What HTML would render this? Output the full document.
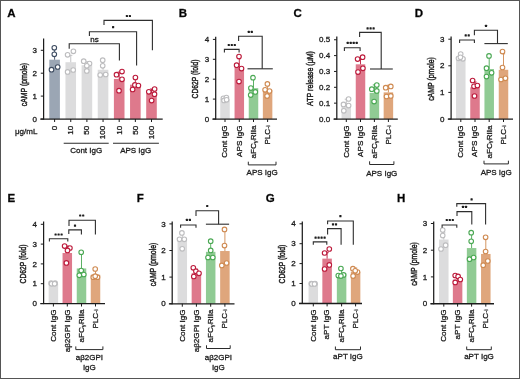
<!DOCTYPE html>
<html><head><meta charset="utf-8"><title>Figure</title>
<style>
html,body{margin:0;padding:0;background:#fff;}
body{width:520px;height:379px;overflow:hidden;}
svg{display:block;font-family:"Liberation Sans", sans-serif;will-change:transform;}
text{stroke:#1c1c1c;stroke-width:0.3px;}
.yt{stroke-width:0.45px;}
</style></head>
<body>
<svg width="520" height="379" viewBox="0 0 520 379">
<rect x="0" y="0" width="520" height="379" fill="#ffffff"/>
<rect x="49.3" y="59.69" width="10.6" height="59.31" fill="#9ba6b4"/>
<line x1="54.6" y1="59.69" x2="54.6" y2="49.38" stroke="#3f4d62" stroke-width="0.9"/>
<line x1="53" y1="49.38" x2="56.2" y2="49.38" stroke="#3f4d62" stroke-width="0.9"/>
<circle cx="54.3" cy="47.8" r="2.3" fill="#ffffff" stroke="#3f4d62" stroke-width="1.1"/>
<circle cx="54.3" cy="54.3" r="2.3" fill="#ffffff" stroke="#3f4d62" stroke-width="1.1"/>
<circle cx="51.5" cy="69.7" r="2.3" fill="#ffffff" stroke="#3f4d62" stroke-width="1.1"/>
<circle cx="57.7" cy="67" r="2.3" fill="#ffffff" stroke="#3f4d62" stroke-width="1.1"/>
<rect x="65.45" y="62.21" width="10.6" height="56.79" fill="#dcdcdd"/>
<line x1="70.75" y1="62.21" x2="70.75" y2="55.34" stroke="#bdbdbf" stroke-width="0.9"/>
<line x1="69.15" y1="55.34" x2="72.35" y2="55.34" stroke="#bdbdbf" stroke-width="0.9"/>
<circle cx="67.6" cy="54.8" r="2.3" fill="#ffffff" stroke="#bdbdbf" stroke-width="1.1"/>
<circle cx="73.4" cy="51.3" r="2.3" fill="#ffffff" stroke="#bdbdbf" stroke-width="1.1"/>
<circle cx="67.6" cy="71.9" r="2.3" fill="#ffffff" stroke="#bdbdbf" stroke-width="1.1"/>
<circle cx="73.2" cy="70" r="2.3" fill="#ffffff" stroke="#bdbdbf" stroke-width="1.1"/>
<rect x="81.6" y="65.19" width="10.6" height="53.81" fill="#dcdcdd"/>
<line x1="86.9" y1="65.19" x2="86.9" y2="61.75" stroke="#bdbdbf" stroke-width="0.9"/>
<line x1="85.3" y1="61.75" x2="88.5" y2="61.75" stroke="#bdbdbf" stroke-width="0.9"/>
<circle cx="83.7" cy="61.2" r="2.3" fill="#ffffff" stroke="#bdbdbf" stroke-width="1.1"/>
<circle cx="89.5" cy="63.5" r="2.3" fill="#ffffff" stroke="#bdbdbf" stroke-width="1.1"/>
<circle cx="86.8" cy="65.8" r="2.3" fill="#ffffff" stroke="#bdbdbf" stroke-width="1.1"/>
<circle cx="86.8" cy="70.9" r="2.3" fill="#ffffff" stroke="#bdbdbf" stroke-width="1.1"/>
<rect x="97.75" y="69.77" width="10.6" height="49.23" fill="#dcdcdd"/>
<line x1="103.05" y1="69.77" x2="103.05" y2="60.61" stroke="#bdbdbf" stroke-width="0.9"/>
<line x1="101.45" y1="60.61" x2="104.65" y2="60.61" stroke="#bdbdbf" stroke-width="0.9"/>
<circle cx="102.7" cy="60.2" r="2.3" fill="#ffffff" stroke="#bdbdbf" stroke-width="1.1"/>
<circle cx="102.7" cy="65.8" r="2.3" fill="#ffffff" stroke="#bdbdbf" stroke-width="1.1"/>
<circle cx="100.2" cy="75" r="2.3" fill="#ffffff" stroke="#bdbdbf" stroke-width="1.1"/>
<circle cx="105.7" cy="74.5" r="2.3" fill="#ffffff" stroke="#bdbdbf" stroke-width="1.1"/>
<rect x="113.9" y="78.93" width="10.6" height="40.07" fill="#de798c"/>
<line x1="119.2" y1="78.93" x2="119.2" y2="72.06" stroke="#bc1a3b" stroke-width="0.9"/>
<line x1="117.6" y1="72.06" x2="120.8" y2="72.06" stroke="#bc1a3b" stroke-width="0.9"/>
<circle cx="116.5" cy="74.7" r="2.3" fill="#ffffff" stroke="#bc1a3b" stroke-width="1.1"/>
<circle cx="122" cy="71.6" r="2.3" fill="#ffffff" stroke="#bc1a3b" stroke-width="1.1"/>
<circle cx="122" cy="79.3" r="2.3" fill="#ffffff" stroke="#bc1a3b" stroke-width="1.1"/>
<circle cx="119" cy="90.7" r="2.3" fill="#ffffff" stroke="#bc1a3b" stroke-width="1.1"/>
<rect x="130.05" y="84.65" width="10.6" height="34.35" fill="#de798c"/>
<line x1="135.35" y1="84.65" x2="135.35" y2="77.78" stroke="#bc1a3b" stroke-width="0.9"/>
<line x1="133.75" y1="77.78" x2="136.95" y2="77.78" stroke="#bc1a3b" stroke-width="0.9"/>
<circle cx="135.4" cy="77.5" r="2.3" fill="#ffffff" stroke="#bc1a3b" stroke-width="1.1"/>
<circle cx="134.9" cy="84.9" r="2.3" fill="#ffffff" stroke="#bc1a3b" stroke-width="1.1"/>
<circle cx="138.4" cy="85.5" r="2.3" fill="#ffffff" stroke="#bc1a3b" stroke-width="1.1"/>
<circle cx="132.6" cy="89.5" r="2.3" fill="#ffffff" stroke="#bc1a3b" stroke-width="1.1"/>
<rect x="146.2" y="93.58" width="10.6" height="25.42" fill="#de798c"/>
<line x1="151.5" y1="93.58" x2="151.5" y2="89" stroke="#bc1a3b" stroke-width="0.9"/>
<line x1="149.9" y1="89" x2="153.1" y2="89" stroke="#bc1a3b" stroke-width="0.9"/>
<circle cx="148.8" cy="91.8" r="2.3" fill="#ffffff" stroke="#bc1a3b" stroke-width="1.1"/>
<circle cx="154.6" cy="89" r="2.3" fill="#ffffff" stroke="#bc1a3b" stroke-width="1.1"/>
<circle cx="154.5" cy="94.2" r="2.3" fill="#ffffff" stroke="#bc1a3b" stroke-width="1.1"/>
<circle cx="151.6" cy="100.6" r="2.3" fill="#ffffff" stroke="#bc1a3b" stroke-width="1.1"/>
<line x1="43.6" y1="38.5" x2="43.6" y2="119.6" stroke="#1c1c1c" stroke-width="1.25"/>
<line x1="40.3" y1="119.15" x2="162.7" y2="119.15" stroke="#1c1c1c" stroke-width="1.4"/>
<line x1="40.8" y1="119" x2="43.6" y2="119" stroke="#1c1c1c" stroke-width="1.0"/>
<text x="37" y="121.6" font-size="8" text-anchor="end" font-weight="normal" fill="#1c1c1c" >0</text>
<line x1="40.8" y1="96.1" x2="43.6" y2="96.1" stroke="#1c1c1c" stroke-width="1.0"/>
<text x="37" y="98.7" font-size="8" text-anchor="end" font-weight="normal" fill="#1c1c1c" >1</text>
<line x1="40.8" y1="73.2" x2="43.6" y2="73.2" stroke="#1c1c1c" stroke-width="1.0"/>
<text x="37" y="75.8" font-size="8" text-anchor="end" font-weight="normal" fill="#1c1c1c" >2</text>
<line x1="40.8" y1="50.3" x2="43.6" y2="50.3" stroke="#1c1c1c" stroke-width="1.0"/>
<text x="37" y="52.9" font-size="8" text-anchor="end" font-weight="normal" fill="#1c1c1c" >3</text>
<line x1="54.6" y1="119" x2="54.6" y2="122" stroke="#1c1c1c" stroke-width="1.0"/>
<line x1="70.75" y1="119" x2="70.75" y2="122" stroke="#1c1c1c" stroke-width="1.0"/>
<line x1="86.9" y1="119" x2="86.9" y2="122" stroke="#1c1c1c" stroke-width="1.0"/>
<line x1="103.05" y1="119" x2="103.05" y2="122" stroke="#1c1c1c" stroke-width="1.0"/>
<line x1="119.2" y1="119" x2="119.2" y2="122" stroke="#1c1c1c" stroke-width="1.0"/>
<line x1="135.35" y1="119" x2="135.35" y2="122" stroke="#1c1c1c" stroke-width="1.0"/>
<line x1="151.5" y1="119" x2="151.5" y2="122" stroke="#1c1c1c" stroke-width="1.0"/>
<text transform="translate(26.5,84.5) rotate(-90)" font-size="9.2" text-anchor="middle" font-weight="normal" fill="#1c1c1c" textLength="43.3" lengthAdjust="spacingAndGlyphs" class="yt">cAMP (pmole)</text>
<text transform="translate(56.95,125.8) rotate(-90)" font-size="8.1" text-anchor="end" font-weight="normal" fill="#1c1c1c">0</text>
<text transform="translate(73.1,125.8) rotate(-90)" font-size="8.1" text-anchor="end" font-weight="normal" fill="#1c1c1c">10</text>
<text transform="translate(89.25,125.8) rotate(-90)" font-size="8.1" text-anchor="end" font-weight="normal" fill="#1c1c1c">50</text>
<text transform="translate(105.4,125.8) rotate(-90)" font-size="8.1" text-anchor="end" font-weight="normal" fill="#1c1c1c">100</text>
<text transform="translate(121.55,125.8) rotate(-90)" font-size="8.1" text-anchor="end" font-weight="normal" fill="#1c1c1c">10</text>
<text transform="translate(137.7,125.8) rotate(-90)" font-size="8.1" text-anchor="end" font-weight="normal" fill="#1c1c1c">50</text>
<text transform="translate(153.85,125.8) rotate(-90)" font-size="8.1" text-anchor="end" font-weight="normal" fill="#1c1c1c">100</text>
<text x="7.3" y="16.7" font-size="11.5" text-anchor="start" font-weight="bold" fill="#000" >A</text>
<rect x="220.25" y="99.1" width="9.5" height="19.9" fill="#dcdcdd"/>
<line x1="225" y1="99.1" x2="225" y2="98.1" stroke="#bdbdbf" stroke-width="0.9"/>
<line x1="223.4" y1="98.1" x2="226.6" y2="98.1" stroke="#bdbdbf" stroke-width="0.9"/>
<circle cx="223.4" cy="98.3" r="2.3" fill="#ffffff" stroke="#bdbdbf" stroke-width="1.1"/>
<circle cx="226.4" cy="97.6" r="2.3" fill="#ffffff" stroke="#bdbdbf" stroke-width="1.1"/>
<circle cx="224" cy="100.4" r="2.3" fill="#ffffff" stroke="#bdbdbf" stroke-width="1.1"/>
<circle cx="226.6" cy="99.8" r="2.3" fill="#ffffff" stroke="#bdbdbf" stroke-width="1.1"/>
<rect x="234.55" y="67.66" width="9.5" height="51.34" fill="#de798c"/>
<line x1="239.3" y1="67.66" x2="239.3" y2="58.7" stroke="#bc1a3b" stroke-width="0.9"/>
<line x1="237.7" y1="58.7" x2="240.9" y2="58.7" stroke="#bc1a3b" stroke-width="0.9"/>
<circle cx="239" cy="56.5" r="2.3" fill="#ffffff" stroke="#bc1a3b" stroke-width="1.1"/>
<circle cx="236.6" cy="65.2" r="2.3" fill="#ffffff" stroke="#bc1a3b" stroke-width="1.1"/>
<circle cx="241.5" cy="68.6" r="2.3" fill="#ffffff" stroke="#bc1a3b" stroke-width="1.1"/>
<circle cx="239" cy="81.6" r="2.3" fill="#ffffff" stroke="#bc1a3b" stroke-width="1.1"/>
<rect x="248.75" y="88.16" width="9.5" height="30.84" fill="#90cb94"/>
<line x1="253.5" y1="88.16" x2="253.5" y2="79.2" stroke="#4aa853" stroke-width="0.9"/>
<line x1="251.9" y1="79.2" x2="255.1" y2="79.2" stroke="#4aa853" stroke-width="0.9"/>
<circle cx="253" cy="77.7" r="2.3" fill="#ffffff" stroke="#4aa853" stroke-width="1.1"/>
<circle cx="250.9" cy="88.1" r="2.3" fill="#ffffff" stroke="#4aa853" stroke-width="1.1"/>
<circle cx="255.3" cy="91.9" r="2.3" fill="#ffffff" stroke="#4aa853" stroke-width="1.1"/>
<circle cx="250.7" cy="95.1" r="2.3" fill="#ffffff" stroke="#4aa853" stroke-width="1.1"/>
<rect x="262.85" y="90.15" width="9.5" height="28.85" fill="#dfa67c"/>
<line x1="267.6" y1="90.15" x2="267.6" y2="84.18" stroke="#cf8a51" stroke-width="0.9"/>
<line x1="266" y1="84.18" x2="269.2" y2="84.18" stroke="#cf8a51" stroke-width="0.9"/>
<circle cx="267.4" cy="83.9" r="2.3" fill="#ffffff" stroke="#cf8a51" stroke-width="1.1"/>
<circle cx="265.1" cy="89.8" r="2.3" fill="#ffffff" stroke="#cf8a51" stroke-width="1.1"/>
<circle cx="269.5" cy="91" r="2.3" fill="#ffffff" stroke="#cf8a51" stroke-width="1.1"/>
<circle cx="267.1" cy="96.1" r="2.3" fill="#ffffff" stroke="#cf8a51" stroke-width="1.1"/>
<line x1="215.7" y1="36.7" x2="215.7" y2="119.6" stroke="#1c1c1c" stroke-width="1.25"/>
<line x1="212.4" y1="119.15" x2="277" y2="119.15" stroke="#1c1c1c" stroke-width="1.4"/>
<line x1="212.9" y1="119" x2="215.7" y2="119" stroke="#1c1c1c" stroke-width="1.0"/>
<text x="209.1" y="121.6" font-size="8" text-anchor="end" font-weight="normal" fill="#1c1c1c" >0</text>
<line x1="212.9" y1="99.1" x2="215.7" y2="99.1" stroke="#1c1c1c" stroke-width="1.0"/>
<text x="209.1" y="101.7" font-size="8" text-anchor="end" font-weight="normal" fill="#1c1c1c" >1</text>
<line x1="212.9" y1="79.2" x2="215.7" y2="79.2" stroke="#1c1c1c" stroke-width="1.0"/>
<text x="209.1" y="81.8" font-size="8" text-anchor="end" font-weight="normal" fill="#1c1c1c" >2</text>
<line x1="212.9" y1="59.3" x2="215.7" y2="59.3" stroke="#1c1c1c" stroke-width="1.0"/>
<text x="209.1" y="61.9" font-size="8" text-anchor="end" font-weight="normal" fill="#1c1c1c" >3</text>
<line x1="212.9" y1="39.4" x2="215.7" y2="39.4" stroke="#1c1c1c" stroke-width="1.0"/>
<text x="209.1" y="42" font-size="8" text-anchor="end" font-weight="normal" fill="#1c1c1c" >4</text>
<line x1="225" y1="119" x2="225" y2="122" stroke="#1c1c1c" stroke-width="1.0"/>
<line x1="239.3" y1="119" x2="239.3" y2="122" stroke="#1c1c1c" stroke-width="1.0"/>
<line x1="253.5" y1="119" x2="253.5" y2="122" stroke="#1c1c1c" stroke-width="1.0"/>
<line x1="267.6" y1="119" x2="267.6" y2="122" stroke="#1c1c1c" stroke-width="1.0"/>
<text transform="translate(197.7,79) rotate(-90)" font-size="9.2" text-anchor="middle" font-weight="normal" fill="#1c1c1c" textLength="38.9" lengthAdjust="spacingAndGlyphs" class="yt">CD62P (fold)</text>
<text transform="translate(227.35,125.4) rotate(-90)" font-size="8.1" text-anchor="end" font-weight="normal" fill="#1c1c1c">Cont IgG</text>
<text transform="translate(241.65,125.4) rotate(-90)" font-size="8.1" text-anchor="end" font-weight="normal" fill="#1c1c1c">APS IgG</text>
<text transform="translate(255.85,125.4) rotate(-90)" font-size="8.1" text-anchor="end" font-weight="normal" fill="#1c1c1c">aFC<tspan font-size="5.8" dy="0.9">&#947;</tspan><tspan dy="-0.9">RIIa</tspan></text>
<text transform="translate(269.95,125.4) rotate(-90)" font-size="8.1" text-anchor="end" font-weight="normal" fill="#1c1c1c">PLC<tspan font-size="6.2">-i</tspan></text>
<text x="178.7" y="16.7" font-size="11.5" text-anchor="start" font-weight="bold" fill="#000" >B</text>
<rect x="341.55" y="105.53" width="9.5" height="13.47" fill="#dcdcdd"/>
<line x1="346.3" y1="105.53" x2="346.3" y2="99.19" stroke="#bdbdbf" stroke-width="0.9"/>
<line x1="344.7" y1="99.19" x2="347.9" y2="99.19" stroke="#bdbdbf" stroke-width="0.9"/>
<circle cx="348.6" cy="99" r="2.3" fill="#ffffff" stroke="#bdbdbf" stroke-width="1.1"/>
<circle cx="343.5" cy="104.4" r="2.3" fill="#ffffff" stroke="#bdbdbf" stroke-width="1.1"/>
<circle cx="348.6" cy="105.6" r="2.3" fill="#ffffff" stroke="#bdbdbf" stroke-width="1.1"/>
<circle cx="343.8" cy="110.8" r="2.3" fill="#ffffff" stroke="#bdbdbf" stroke-width="1.1"/>
<rect x="355.75" y="64.32" width="9.5" height="54.68" fill="#de798c"/>
<line x1="360.5" y1="64.32" x2="360.5" y2="57.98" stroke="#bc1a3b" stroke-width="0.9"/>
<line x1="358.9" y1="57.98" x2="362.1" y2="57.98" stroke="#bc1a3b" stroke-width="0.9"/>
<circle cx="357.6" cy="59.1" r="2.3" fill="#ffffff" stroke="#bc1a3b" stroke-width="1.1"/>
<circle cx="362.6" cy="57.2" r="2.3" fill="#ffffff" stroke="#bc1a3b" stroke-width="1.1"/>
<circle cx="362.9" cy="68.3" r="2.3" fill="#ffffff" stroke="#bc1a3b" stroke-width="1.1"/>
<circle cx="358" cy="72.1" r="2.3" fill="#ffffff" stroke="#bc1a3b" stroke-width="1.1"/>
<rect x="369.65" y="92.85" width="9.5" height="26.15" fill="#90cb94"/>
<line x1="374.4" y1="92.85" x2="374.4" y2="84.92" stroke="#4aa853" stroke-width="0.9"/>
<line x1="372.8" y1="84.92" x2="376" y2="84.92" stroke="#4aa853" stroke-width="0.9"/>
<circle cx="376.8" cy="85.1" r="2.3" fill="#ffffff" stroke="#4aa853" stroke-width="1.1"/>
<circle cx="371.8" cy="89.2" r="2.3" fill="#ffffff" stroke="#4aa853" stroke-width="1.1"/>
<circle cx="376.8" cy="90.9" r="2.3" fill="#ffffff" stroke="#4aa853" stroke-width="1.1"/>
<circle cx="374.1" cy="101.6" r="2.3" fill="#ffffff" stroke="#4aa853" stroke-width="1.1"/>
<rect x="383.65" y="92.37" width="9.5" height="26.63" fill="#dfa67c"/>
<line x1="388.4" y1="92.37" x2="388.4" y2="85.24" stroke="#cf8a51" stroke-width="0.9"/>
<line x1="386.8" y1="85.24" x2="390" y2="85.24" stroke="#cf8a51" stroke-width="0.9"/>
<circle cx="385.7" cy="87.7" r="2.3" fill="#ffffff" stroke="#cf8a51" stroke-width="1.1"/>
<circle cx="390.8" cy="86.4" r="2.3" fill="#ffffff" stroke="#cf8a51" stroke-width="1.1"/>
<circle cx="386.5" cy="96.5" r="2.3" fill="#ffffff" stroke="#cf8a51" stroke-width="1.1"/>
<circle cx="390.8" cy="95.9" r="2.3" fill="#ffffff" stroke="#cf8a51" stroke-width="1.1"/>
<line x1="336.8" y1="36.5" x2="336.8" y2="119.6" stroke="#1c1c1c" stroke-width="1.25"/>
<line x1="333.5" y1="119.15" x2="397.8" y2="119.15" stroke="#1c1c1c" stroke-width="1.4"/>
<line x1="334" y1="119" x2="336.8" y2="119" stroke="#1c1c1c" stroke-width="1.0"/>
<text x="330.2" y="121.6" font-size="8" text-anchor="end" font-weight="normal" fill="#1c1c1c" >0.0</text>
<line x1="334" y1="103.15" x2="336.8" y2="103.15" stroke="#1c1c1c" stroke-width="1.0"/>
<text x="330.2" y="105.75" font-size="8" text-anchor="end" font-weight="normal" fill="#1c1c1c" >0.1</text>
<line x1="334" y1="87.3" x2="336.8" y2="87.3" stroke="#1c1c1c" stroke-width="1.0"/>
<text x="330.2" y="89.9" font-size="8" text-anchor="end" font-weight="normal" fill="#1c1c1c" >0.2</text>
<line x1="334" y1="71.45" x2="336.8" y2="71.45" stroke="#1c1c1c" stroke-width="1.0"/>
<text x="330.2" y="74.05" font-size="8" text-anchor="end" font-weight="normal" fill="#1c1c1c" >0.3</text>
<line x1="334" y1="55.6" x2="336.8" y2="55.6" stroke="#1c1c1c" stroke-width="1.0"/>
<text x="330.2" y="58.2" font-size="8" text-anchor="end" font-weight="normal" fill="#1c1c1c" >0.4</text>
<line x1="334" y1="39.75" x2="336.8" y2="39.75" stroke="#1c1c1c" stroke-width="1.0"/>
<text x="330.2" y="42.35" font-size="8" text-anchor="end" font-weight="normal" fill="#1c1c1c" >0.5</text>
<line x1="346.3" y1="119" x2="346.3" y2="122" stroke="#1c1c1c" stroke-width="1.0"/>
<line x1="360.5" y1="119" x2="360.5" y2="122" stroke="#1c1c1c" stroke-width="1.0"/>
<line x1="374.4" y1="119" x2="374.4" y2="122" stroke="#1c1c1c" stroke-width="1.0"/>
<line x1="388.4" y1="119" x2="388.4" y2="122" stroke="#1c1c1c" stroke-width="1.0"/>
<text transform="translate(312.6,78.5) rotate(-90)" font-size="9.2" text-anchor="middle" font-weight="normal" fill="#1c1c1c" textLength="54.9" lengthAdjust="spacingAndGlyphs" class="yt">ATP release (&#956;M)</text>
<text transform="translate(348.65,125.4) rotate(-90)" font-size="8.1" text-anchor="end" font-weight="normal" fill="#1c1c1c">Cont IgG</text>
<text transform="translate(362.85,125.4) rotate(-90)" font-size="8.1" text-anchor="end" font-weight="normal" fill="#1c1c1c">APS IgG</text>
<text transform="translate(376.75,125.4) rotate(-90)" font-size="8.1" text-anchor="end" font-weight="normal" fill="#1c1c1c">aFC<tspan font-size="5.8" dy="0.9">&#947;</tspan><tspan dy="-0.9">RIIa</tspan></text>
<text transform="translate(390.75,125.4) rotate(-90)" font-size="8.1" text-anchor="end" font-weight="normal" fill="#1c1c1c">PLC<tspan font-size="6.2">-i</tspan></text>
<text x="293.6" y="16.7" font-size="11.5" text-anchor="start" font-weight="bold" fill="#000" >C</text>
<rect x="456.05" y="57.82" width="9.5" height="61.18" fill="#dcdcdd"/>
<line x1="460.8" y1="57.82" x2="460.8" y2="55.16" stroke="#bdbdbf" stroke-width="0.9"/>
<line x1="459.2" y1="55.16" x2="462.4" y2="55.16" stroke="#bdbdbf" stroke-width="0.9"/>
<circle cx="460.7" cy="54" r="2.3" fill="#ffffff" stroke="#bdbdbf" stroke-width="1.1"/>
<circle cx="458.5" cy="58.3" r="2.3" fill="#ffffff" stroke="#bdbdbf" stroke-width="1.1"/>
<circle cx="462.9" cy="58.8" r="2.3" fill="#ffffff" stroke="#bdbdbf" stroke-width="1.1"/>
<circle cx="460.4" cy="57.3" r="2.3" fill="#ffffff" stroke="#bdbdbf" stroke-width="1.1"/>
<rect x="470.25" y="87.35" width="9.5" height="31.65" fill="#de798c"/>
<line x1="475" y1="87.35" x2="475" y2="82.03" stroke="#bc1a3b" stroke-width="0.9"/>
<line x1="473.4" y1="82.03" x2="476.6" y2="82.03" stroke="#bc1a3b" stroke-width="0.9"/>
<circle cx="472.6" cy="80.5" r="2.3" fill="#ffffff" stroke="#bc1a3b" stroke-width="1.1"/>
<circle cx="474" cy="86.3" r="2.3" fill="#ffffff" stroke="#bc1a3b" stroke-width="1.1"/>
<circle cx="477.4" cy="85.6" r="2.3" fill="#ffffff" stroke="#bc1a3b" stroke-width="1.1"/>
<circle cx="474.5" cy="96" r="2.3" fill="#ffffff" stroke="#bc1a3b" stroke-width="1.1"/>
<rect x="484.45" y="68.99" width="9.5" height="50.01" fill="#90cb94"/>
<line x1="489.2" y1="68.99" x2="489.2" y2="57.02" stroke="#4aa853" stroke-width="0.9"/>
<line x1="487.6" y1="57.02" x2="490.8" y2="57.02" stroke="#4aa853" stroke-width="0.9"/>
<circle cx="489" cy="55.9" r="2.3" fill="#ffffff" stroke="#4aa853" stroke-width="1.1"/>
<circle cx="486.5" cy="68.2" r="2.3" fill="#ffffff" stroke="#4aa853" stroke-width="1.1"/>
<circle cx="491.6" cy="72.8" r="2.3" fill="#ffffff" stroke="#4aa853" stroke-width="1.1"/>
<circle cx="486.5" cy="76.6" r="2.3" fill="#ffffff" stroke="#4aa853" stroke-width="1.1"/>
<rect x="498.75" y="69.79" width="9.5" height="49.21" fill="#dfa67c"/>
<line x1="503.5" y1="69.79" x2="503.5" y2="53.83" stroke="#cf8a51" stroke-width="0.9"/>
<line x1="501.9" y1="53.83" x2="505.1" y2="53.83" stroke="#cf8a51" stroke-width="0.9"/>
<circle cx="502.5" cy="51.5" r="2.3" fill="#ffffff" stroke="#cf8a51" stroke-width="1.1"/>
<circle cx="502.5" cy="67.5" r="2.3" fill="#ffffff" stroke="#cf8a51" stroke-width="1.1"/>
<circle cx="501" cy="79.5" r="2.3" fill="#ffffff" stroke="#cf8a51" stroke-width="1.1"/>
<circle cx="505.4" cy="78.3" r="2.3" fill="#ffffff" stroke="#cf8a51" stroke-width="1.1"/>
<line x1="451.1" y1="36.5" x2="451.1" y2="119.6" stroke="#1c1c1c" stroke-width="1.25"/>
<line x1="447.8" y1="119.15" x2="513" y2="119.15" stroke="#1c1c1c" stroke-width="1.4"/>
<line x1="448.3" y1="119" x2="451.1" y2="119" stroke="#1c1c1c" stroke-width="1.0"/>
<text x="444.5" y="121.6" font-size="8" text-anchor="end" font-weight="normal" fill="#1c1c1c" >0</text>
<line x1="448.3" y1="92.4" x2="451.1" y2="92.4" stroke="#1c1c1c" stroke-width="1.0"/>
<text x="444.5" y="95" font-size="8" text-anchor="end" font-weight="normal" fill="#1c1c1c" >1</text>
<line x1="448.3" y1="65.8" x2="451.1" y2="65.8" stroke="#1c1c1c" stroke-width="1.0"/>
<text x="444.5" y="68.4" font-size="8" text-anchor="end" font-weight="normal" fill="#1c1c1c" >2</text>
<line x1="448.3" y1="39.2" x2="451.1" y2="39.2" stroke="#1c1c1c" stroke-width="1.0"/>
<text x="444.5" y="41.8" font-size="8" text-anchor="end" font-weight="normal" fill="#1c1c1c" >3</text>
<line x1="460.8" y1="119" x2="460.8" y2="122" stroke="#1c1c1c" stroke-width="1.0"/>
<line x1="475" y1="119" x2="475" y2="122" stroke="#1c1c1c" stroke-width="1.0"/>
<line x1="489.2" y1="119" x2="489.2" y2="122" stroke="#1c1c1c" stroke-width="1.0"/>
<line x1="503.5" y1="119" x2="503.5" y2="122" stroke="#1c1c1c" stroke-width="1.0"/>
<text transform="translate(434.4,79) rotate(-90)" font-size="9.2" text-anchor="middle" font-weight="normal" fill="#1c1c1c" textLength="43.7" lengthAdjust="spacingAndGlyphs" class="yt">cAMP (pmole)</text>
<text transform="translate(463.15,125.4) rotate(-90)" font-size="8.1" text-anchor="end" font-weight="normal" fill="#1c1c1c">Cont IgG</text>
<text transform="translate(477.35,125.4) rotate(-90)" font-size="8.1" text-anchor="end" font-weight="normal" fill="#1c1c1c">APS IgG</text>
<text transform="translate(491.55,125.4) rotate(-90)" font-size="8.1" text-anchor="end" font-weight="normal" fill="#1c1c1c">aFC<tspan font-size="5.8" dy="0.9">&#947;</tspan><tspan dy="-0.9">RIIa</tspan></text>
<text transform="translate(505.85,125.4) rotate(-90)" font-size="8.1" text-anchor="end" font-weight="normal" fill="#1c1c1c">PLC<tspan font-size="6.2">-i</tspan></text>
<text x="414.7" y="16.7" font-size="11.5" text-anchor="start" font-weight="bold" fill="#000" >D</text>
<rect x="48.65" y="283.7" width="9.5" height="19.8" fill="#dcdcdd"/>
<line x1="53.4" y1="283.7" x2="53.4" y2="283.11" stroke="#bdbdbf" stroke-width="0.9"/>
<line x1="51.8" y1="283.11" x2="55" y2="283.11" stroke="#bdbdbf" stroke-width="0.9"/>
<circle cx="51.1" cy="283.2" r="2.3" fill="#ffffff" stroke="#bdbdbf" stroke-width="1.1"/>
<circle cx="55.1" cy="283.2" r="2.3" fill="#ffffff" stroke="#bdbdbf" stroke-width="1.1"/>
<circle cx="51.6" cy="283.8" r="2.3" fill="#ffffff" stroke="#bdbdbf" stroke-width="1.1"/>
<circle cx="54.6" cy="283.8" r="2.3" fill="#ffffff" stroke="#bdbdbf" stroke-width="1.1"/>
<rect x="62.55" y="253.01" width="9.5" height="50.49" fill="#de798c"/>
<line x1="67.3" y1="253.01" x2="67.3" y2="246.08" stroke="#bc1a3b" stroke-width="0.9"/>
<line x1="65.7" y1="246.08" x2="68.9" y2="246.08" stroke="#bc1a3b" stroke-width="0.9"/>
<circle cx="64.6" cy="246.1" r="2.3" fill="#ffffff" stroke="#bc1a3b" stroke-width="1.1"/>
<circle cx="69.9" cy="248" r="2.3" fill="#ffffff" stroke="#bc1a3b" stroke-width="1.1"/>
<circle cx="67.5" cy="250.4" r="2.3" fill="#ffffff" stroke="#bc1a3b" stroke-width="1.1"/>
<circle cx="66.4" cy="262.9" r="2.3" fill="#ffffff" stroke="#bc1a3b" stroke-width="1.1"/>
<rect x="76.75" y="268.45" width="9.5" height="35.05" fill="#90cb94"/>
<line x1="81.5" y1="268.45" x2="81.5" y2="251.62" stroke="#4aa853" stroke-width="0.9"/>
<line x1="79.9" y1="251.62" x2="83.1" y2="251.62" stroke="#4aa853" stroke-width="0.9"/>
<circle cx="81.2" cy="252.3" r="2.3" fill="#ffffff" stroke="#4aa853" stroke-width="1.1"/>
<circle cx="81.2" cy="270.6" r="2.3" fill="#ffffff" stroke="#4aa853" stroke-width="1.1"/>
<circle cx="79.3" cy="275.3" r="2.3" fill="#ffffff" stroke="#4aa853" stroke-width="1.1"/>
<circle cx="83.8" cy="274.5" r="2.3" fill="#ffffff" stroke="#4aa853" stroke-width="1.1"/>
<rect x="90.75" y="274.79" width="9.5" height="28.71" fill="#dfa67c"/>
<line x1="95.5" y1="274.79" x2="95.5" y2="268.85" stroke="#cf8a51" stroke-width="0.9"/>
<line x1="93.9" y1="268.85" x2="97.1" y2="268.85" stroke="#cf8a51" stroke-width="0.9"/>
<circle cx="95.2" cy="269" r="2.3" fill="#ffffff" stroke="#cf8a51" stroke-width="1.1"/>
<circle cx="93.3" cy="277.2" r="2.3" fill="#ffffff" stroke="#cf8a51" stroke-width="1.1"/>
<circle cx="97.5" cy="277.2" r="2.3" fill="#ffffff" stroke="#cf8a51" stroke-width="1.1"/>
<circle cx="95.2" cy="276.2" r="2.3" fill="#ffffff" stroke="#cf8a51" stroke-width="1.1"/>
<line x1="43.6" y1="221.5" x2="43.6" y2="304.1" stroke="#1c1c1c" stroke-width="1.25"/>
<line x1="40.3" y1="303.65" x2="105" y2="303.65" stroke="#1c1c1c" stroke-width="1.4"/>
<line x1="40.8" y1="303.5" x2="43.6" y2="303.5" stroke="#1c1c1c" stroke-width="1.0"/>
<text x="37" y="306.1" font-size="8" text-anchor="end" font-weight="normal" fill="#1c1c1c" >0</text>
<line x1="40.8" y1="283.7" x2="43.6" y2="283.7" stroke="#1c1c1c" stroke-width="1.0"/>
<text x="37" y="286.3" font-size="8" text-anchor="end" font-weight="normal" fill="#1c1c1c" >1</text>
<line x1="40.8" y1="263.9" x2="43.6" y2="263.9" stroke="#1c1c1c" stroke-width="1.0"/>
<text x="37" y="266.5" font-size="8" text-anchor="end" font-weight="normal" fill="#1c1c1c" >2</text>
<line x1="40.8" y1="244.1" x2="43.6" y2="244.1" stroke="#1c1c1c" stroke-width="1.0"/>
<text x="37" y="246.7" font-size="8" text-anchor="end" font-weight="normal" fill="#1c1c1c" >3</text>
<line x1="40.8" y1="224.3" x2="43.6" y2="224.3" stroke="#1c1c1c" stroke-width="1.0"/>
<text x="37" y="226.9" font-size="8" text-anchor="end" font-weight="normal" fill="#1c1c1c" >4</text>
<line x1="53.4" y1="303.5" x2="53.4" y2="306.5" stroke="#1c1c1c" stroke-width="1.0"/>
<line x1="67.3" y1="303.5" x2="67.3" y2="306.5" stroke="#1c1c1c" stroke-width="1.0"/>
<line x1="81.5" y1="303.5" x2="81.5" y2="306.5" stroke="#1c1c1c" stroke-width="1.0"/>
<line x1="95.5" y1="303.5" x2="95.5" y2="306.5" stroke="#1c1c1c" stroke-width="1.0"/>
<text transform="translate(25.9,264) rotate(-90)" font-size="9.2" text-anchor="middle" font-weight="normal" fill="#1c1c1c" textLength="38.9" lengthAdjust="spacingAndGlyphs" class="yt">CD62P (fold)</text>
<text transform="translate(55.75,309.4) rotate(-90)" font-size="8.1" text-anchor="end" font-weight="normal" fill="#1c1c1c">Cont IgG</text>
<text transform="translate(69.65,309.4) rotate(-90)" font-size="8.1" text-anchor="end" font-weight="normal" fill="#1c1c1c">a&#946;2GPI IgG</text>
<text transform="translate(83.85,309.4) rotate(-90)" font-size="8.1" text-anchor="end" font-weight="normal" fill="#1c1c1c">aFC<tspan font-size="5.8" dy="0.9">&#947;</tspan><tspan dy="-0.9">RIIa</tspan></text>
<text transform="translate(97.85,309.4) rotate(-90)" font-size="8.1" text-anchor="end" font-weight="normal" fill="#1c1c1c">PLC<tspan font-size="6.2">-i</tspan></text>
<text x="7.6" y="201.8" font-size="11.5" text-anchor="start" font-weight="bold" fill="#000" >E</text>
<rect x="177.55" y="239.86" width="9.5" height="63.84" fill="#dcdcdd"/>
<line x1="182.3" y1="239.86" x2="182.3" y2="234.54" stroke="#bdbdbf" stroke-width="0.9"/>
<line x1="180.7" y1="234.54" x2="183.9" y2="234.54" stroke="#bdbdbf" stroke-width="0.9"/>
<circle cx="181.9" cy="232.9" r="2.3" fill="#ffffff" stroke="#bdbdbf" stroke-width="1.1"/>
<circle cx="179.5" cy="239.3" r="2.3" fill="#ffffff" stroke="#bdbdbf" stroke-width="1.1"/>
<circle cx="184.3" cy="239.3" r="2.3" fill="#ffffff" stroke="#bdbdbf" stroke-width="1.1"/>
<circle cx="182.2" cy="248.8" r="2.3" fill="#ffffff" stroke="#bdbdbf" stroke-width="1.1"/>
<rect x="191.65" y="273.11" width="9.5" height="30.59" fill="#de798c"/>
<line x1="196.4" y1="273.11" x2="196.4" y2="269.12" stroke="#bc1a3b" stroke-width="0.9"/>
<line x1="194.8" y1="269.12" x2="198" y2="269.12" stroke="#bc1a3b" stroke-width="0.9"/>
<circle cx="193.3" cy="267.8" r="2.3" fill="#ffffff" stroke="#bc1a3b" stroke-width="1.1"/>
<circle cx="195.9" cy="271.3" r="2.3" fill="#ffffff" stroke="#bc1a3b" stroke-width="1.1"/>
<circle cx="199" cy="273.3" r="2.3" fill="#ffffff" stroke="#bc1a3b" stroke-width="1.1"/>
<circle cx="193.8" cy="276.5" r="2.3" fill="#ffffff" stroke="#bc1a3b" stroke-width="1.1"/>
<rect x="205.95" y="251.83" width="9.5" height="51.87" fill="#90cb94"/>
<line x1="210.7" y1="251.83" x2="210.7" y2="241.19" stroke="#4aa853" stroke-width="0.9"/>
<line x1="209.1" y1="241.19" x2="212.3" y2="241.19" stroke="#4aa853" stroke-width="0.9"/>
<circle cx="210.7" cy="241.2" r="2.3" fill="#ffffff" stroke="#4aa853" stroke-width="1.1"/>
<circle cx="210.7" cy="250.4" r="2.3" fill="#ffffff" stroke="#4aa853" stroke-width="1.1"/>
<circle cx="208" cy="257.5" r="2.3" fill="#ffffff" stroke="#4aa853" stroke-width="1.1"/>
<circle cx="212.8" cy="257.5" r="2.3" fill="#ffffff" stroke="#4aa853" stroke-width="1.1"/>
<rect x="220.15" y="251.03" width="9.5" height="52.67" fill="#dfa67c"/>
<line x1="224.9" y1="251.03" x2="224.9" y2="229.75" stroke="#cf8a51" stroke-width="0.9"/>
<line x1="223.3" y1="229.75" x2="226.5" y2="229.75" stroke="#cf8a51" stroke-width="0.9"/>
<circle cx="224.5" cy="229.4" r="2.3" fill="#ffffff" stroke="#cf8a51" stroke-width="1.1"/>
<circle cx="224.5" cy="245.6" r="2.3" fill="#ffffff" stroke="#cf8a51" stroke-width="1.1"/>
<circle cx="221.8" cy="265.4" r="2.3" fill="#ffffff" stroke="#cf8a51" stroke-width="1.1"/>
<circle cx="226.6" cy="263" r="2.3" fill="#ffffff" stroke="#cf8a51" stroke-width="1.1"/>
<line x1="172.2" y1="221.4" x2="172.2" y2="304.3" stroke="#1c1c1c" stroke-width="1.25"/>
<line x1="168.9" y1="303.85" x2="234.5" y2="303.85" stroke="#1c1c1c" stroke-width="1.4"/>
<line x1="169.4" y1="303.7" x2="172.2" y2="303.7" stroke="#1c1c1c" stroke-width="1.0"/>
<text x="165.6" y="306.3" font-size="8" text-anchor="end" font-weight="normal" fill="#1c1c1c" >0</text>
<line x1="169.4" y1="277.1" x2="172.2" y2="277.1" stroke="#1c1c1c" stroke-width="1.0"/>
<text x="165.6" y="279.7" font-size="8" text-anchor="end" font-weight="normal" fill="#1c1c1c" >1</text>
<line x1="169.4" y1="250.5" x2="172.2" y2="250.5" stroke="#1c1c1c" stroke-width="1.0"/>
<text x="165.6" y="253.1" font-size="8" text-anchor="end" font-weight="normal" fill="#1c1c1c" >2</text>
<line x1="169.4" y1="223.9" x2="172.2" y2="223.9" stroke="#1c1c1c" stroke-width="1.0"/>
<text x="165.6" y="226.5" font-size="8" text-anchor="end" font-weight="normal" fill="#1c1c1c" >3</text>
<line x1="182.3" y1="303.7" x2="182.3" y2="306.7" stroke="#1c1c1c" stroke-width="1.0"/>
<line x1="196.4" y1="303.7" x2="196.4" y2="306.7" stroke="#1c1c1c" stroke-width="1.0"/>
<line x1="210.7" y1="303.7" x2="210.7" y2="306.7" stroke="#1c1c1c" stroke-width="1.0"/>
<line x1="224.9" y1="303.7" x2="224.9" y2="306.7" stroke="#1c1c1c" stroke-width="1.0"/>
<text transform="translate(156.1,264.4) rotate(-90)" font-size="9.2" text-anchor="middle" font-weight="normal" fill="#1c1c1c" textLength="43.5" lengthAdjust="spacingAndGlyphs" class="yt">cAMP (pmole)</text>
<text transform="translate(184.65,309.4) rotate(-90)" font-size="8.1" text-anchor="end" font-weight="normal" fill="#1c1c1c">Cont IgG</text>
<text transform="translate(198.75,309.4) rotate(-90)" font-size="8.1" text-anchor="end" font-weight="normal" fill="#1c1c1c">a&#946;2GPI IgG</text>
<text transform="translate(213.05,309.4) rotate(-90)" font-size="8.1" text-anchor="end" font-weight="normal" fill="#1c1c1c">aFC<tspan font-size="5.8" dy="0.9">&#947;</tspan><tspan dy="-0.9">RIIa</tspan></text>
<text transform="translate(227.25,309.4) rotate(-90)" font-size="8.1" text-anchor="end" font-weight="normal" fill="#1c1c1c">PLC<tspan font-size="6.2">-i</tspan></text>
<text x="136.7" y="201.8" font-size="11.5" text-anchor="start" font-weight="bold" fill="#000" >F</text>
<rect x="308.55" y="283.5" width="9.5" height="19.9" fill="#dcdcdd"/>
<line x1="313.3" y1="283.5" x2="313.3" y2="282.9" stroke="#bdbdbf" stroke-width="0.9"/>
<line x1="311.7" y1="282.9" x2="314.9" y2="282.9" stroke="#bdbdbf" stroke-width="0.9"/>
<circle cx="311.3" cy="283.5" r="2.3" fill="#ffffff" stroke="#bdbdbf" stroke-width="1.1"/>
<circle cx="315" cy="283.5" r="2.3" fill="#ffffff" stroke="#bdbdbf" stroke-width="1.1"/>
<circle cx="311.8" cy="284" r="2.3" fill="#ffffff" stroke="#bdbdbf" stroke-width="1.1"/>
<circle cx="314.5" cy="284" r="2.3" fill="#ffffff" stroke="#bdbdbf" stroke-width="1.1"/>
<rect x="322.35" y="258.62" width="9.5" height="44.77" fill="#de798c"/>
<line x1="327.1" y1="258.62" x2="327.1" y2="252.66" stroke="#bc1a3b" stroke-width="0.9"/>
<line x1="325.5" y1="252.66" x2="328.7" y2="252.66" stroke="#bc1a3b" stroke-width="0.9"/>
<circle cx="329.3" cy="249" r="2.3" fill="#ffffff" stroke="#bc1a3b" stroke-width="1.1"/>
<circle cx="324.6" cy="253" r="2.3" fill="#ffffff" stroke="#bc1a3b" stroke-width="1.1"/>
<circle cx="329.3" cy="264.9" r="2.3" fill="#ffffff" stroke="#bc1a3b" stroke-width="1.1"/>
<circle cx="324.6" cy="269" r="2.3" fill="#ffffff" stroke="#bc1a3b" stroke-width="1.1"/>
<rect x="336.85" y="273.55" width="9.5" height="29.85" fill="#90cb94"/>
<line x1="341.6" y1="273.55" x2="341.6" y2="269.57" stroke="#4aa853" stroke-width="0.9"/>
<line x1="340" y1="269.57" x2="343.2" y2="269.57" stroke="#4aa853" stroke-width="0.9"/>
<circle cx="340.9" cy="268.5" r="2.3" fill="#ffffff" stroke="#4aa853" stroke-width="1.1"/>
<circle cx="338.3" cy="275.6" r="2.3" fill="#ffffff" stroke="#4aa853" stroke-width="1.1"/>
<circle cx="343.6" cy="274.9" r="2.3" fill="#ffffff" stroke="#4aa853" stroke-width="1.1"/>
<circle cx="340.9" cy="276.1" r="2.3" fill="#ffffff" stroke="#4aa853" stroke-width="1.1"/>
<rect x="350.85" y="271.96" width="9.5" height="31.44" fill="#dfa67c"/>
<line x1="355.6" y1="271.96" x2="355.6" y2="267.98" stroke="#cf8a51" stroke-width="0.9"/>
<line x1="354" y1="267.98" x2="357.2" y2="267.98" stroke="#cf8a51" stroke-width="0.9"/>
<circle cx="352.9" cy="268.7" r="2.3" fill="#ffffff" stroke="#cf8a51" stroke-width="1.1"/>
<circle cx="357.5" cy="272.1" r="2.3" fill="#ffffff" stroke="#cf8a51" stroke-width="1.1"/>
<circle cx="353.1" cy="276.1" r="2.3" fill="#ffffff" stroke="#cf8a51" stroke-width="1.1"/>
<circle cx="355.2" cy="270.8" r="2.3" fill="#ffffff" stroke="#cf8a51" stroke-width="1.1"/>
<line x1="302.3" y1="221.5" x2="302.3" y2="304" stroke="#1c1c1c" stroke-width="1.25"/>
<line x1="299" y1="303.55" x2="362" y2="303.55" stroke="#1c1c1c" stroke-width="1.4"/>
<line x1="299.5" y1="303.4" x2="302.3" y2="303.4" stroke="#1c1c1c" stroke-width="1.0"/>
<text x="295.7" y="306" font-size="8" text-anchor="end" font-weight="normal" fill="#1c1c1c" >0</text>
<line x1="299.5" y1="283.5" x2="302.3" y2="283.5" stroke="#1c1c1c" stroke-width="1.0"/>
<text x="295.7" y="286.1" font-size="8" text-anchor="end" font-weight="normal" fill="#1c1c1c" >1</text>
<line x1="299.5" y1="263.6" x2="302.3" y2="263.6" stroke="#1c1c1c" stroke-width="1.0"/>
<text x="295.7" y="266.2" font-size="8" text-anchor="end" font-weight="normal" fill="#1c1c1c" >2</text>
<line x1="299.5" y1="243.7" x2="302.3" y2="243.7" stroke="#1c1c1c" stroke-width="1.0"/>
<text x="295.7" y="246.3" font-size="8" text-anchor="end" font-weight="normal" fill="#1c1c1c" >3</text>
<line x1="299.5" y1="223.8" x2="302.3" y2="223.8" stroke="#1c1c1c" stroke-width="1.0"/>
<text x="295.7" y="226.4" font-size="8" text-anchor="end" font-weight="normal" fill="#1c1c1c" >4</text>
<line x1="313.3" y1="303.4" x2="313.3" y2="306.4" stroke="#1c1c1c" stroke-width="1.0"/>
<line x1="327.1" y1="303.4" x2="327.1" y2="306.4" stroke="#1c1c1c" stroke-width="1.0"/>
<line x1="341.6" y1="303.4" x2="341.6" y2="306.4" stroke="#1c1c1c" stroke-width="1.0"/>
<line x1="355.6" y1="303.4" x2="355.6" y2="306.4" stroke="#1c1c1c" stroke-width="1.0"/>
<text transform="translate(285.4,264.1) rotate(-90)" font-size="9.2" text-anchor="middle" font-weight="normal" fill="#1c1c1c" textLength="38.6" lengthAdjust="spacingAndGlyphs" class="yt">CD62P (fold)</text>
<text transform="translate(315.65,309.4) rotate(-90)" font-size="8.1" text-anchor="end" font-weight="normal" fill="#1c1c1c">Cont IgG</text>
<text transform="translate(329.45,309.4) rotate(-90)" font-size="8.1" text-anchor="end" font-weight="normal" fill="#1c1c1c">aPT IgG</text>
<text transform="translate(343.95,309.4) rotate(-90)" font-size="8.1" text-anchor="end" font-weight="normal" fill="#1c1c1c">aFC<tspan font-size="5.8" dy="0.9">&#947;</tspan><tspan dy="-0.9">RIIa</tspan></text>
<text transform="translate(357.95,309.4) rotate(-90)" font-size="8.1" text-anchor="end" font-weight="normal" fill="#1c1c1c">PLC<tspan font-size="6.2">-i</tspan></text>
<text x="265.8" y="201.8" font-size="11.5" text-anchor="start" font-weight="bold" fill="#000" >G</text>
<rect x="439.05" y="239.52" width="9.5" height="64.08" fill="#dcdcdd"/>
<line x1="443.8" y1="239.52" x2="443.8" y2="232.85" stroke="#bdbdbf" stroke-width="0.9"/>
<line x1="442.2" y1="232.85" x2="445.4" y2="232.85" stroke="#bdbdbf" stroke-width="0.9"/>
<circle cx="442.7" cy="230.1" r="2.3" fill="#ffffff" stroke="#bdbdbf" stroke-width="1.1"/>
<circle cx="442.7" cy="235.6" r="2.3" fill="#ffffff" stroke="#bdbdbf" stroke-width="1.1"/>
<circle cx="445.6" cy="245.2" r="2.3" fill="#ffffff" stroke="#bdbdbf" stroke-width="1.1"/>
<circle cx="441" cy="249" r="2.3" fill="#ffffff" stroke="#bdbdbf" stroke-width="1.1"/>
<rect x="452.85" y="279.57" width="9.5" height="24.03" fill="#de798c"/>
<line x1="457.6" y1="279.57" x2="457.6" y2="275.57" stroke="#bc1a3b" stroke-width="0.9"/>
<line x1="456" y1="275.57" x2="459.2" y2="275.57" stroke="#bc1a3b" stroke-width="0.9"/>
<circle cx="455.2" cy="275.5" r="2.3" fill="#ffffff" stroke="#bc1a3b" stroke-width="1.1"/>
<circle cx="458.1" cy="276.4" r="2.3" fill="#ffffff" stroke="#bc1a3b" stroke-width="1.1"/>
<circle cx="460.3" cy="279.5" r="2.3" fill="#ffffff" stroke="#bc1a3b" stroke-width="1.1"/>
<circle cx="455.2" cy="282.4" r="2.3" fill="#ffffff" stroke="#bc1a3b" stroke-width="1.1"/>
<rect x="466.85" y="248.06" width="9.5" height="55.54" fill="#90cb94"/>
<line x1="471.6" y1="248.06" x2="471.6" y2="233.38" stroke="#4aa853" stroke-width="0.9"/>
<line x1="470" y1="233.38" x2="473.2" y2="233.38" stroke="#4aa853" stroke-width="0.9"/>
<circle cx="471.2" cy="232.7" r="2.3" fill="#ffffff" stroke="#4aa853" stroke-width="1.1"/>
<circle cx="471.2" cy="241.3" r="2.3" fill="#ffffff" stroke="#4aa853" stroke-width="1.1"/>
<circle cx="469.5" cy="259.2" r="2.3" fill="#ffffff" stroke="#4aa853" stroke-width="1.1"/>
<circle cx="473.6" cy="257.5" r="2.3" fill="#ffffff" stroke="#4aa853" stroke-width="1.1"/>
<rect x="481.05" y="253.94" width="9.5" height="49.66" fill="#dfa67c"/>
<line x1="485.8" y1="253.94" x2="485.8" y2="237.92" stroke="#cf8a51" stroke-width="0.9"/>
<line x1="484.2" y1="237.92" x2="487.4" y2="237.92" stroke="#cf8a51" stroke-width="0.9"/>
<circle cx="485.6" cy="237.3" r="2.3" fill="#ffffff" stroke="#cf8a51" stroke-width="1.1"/>
<circle cx="485.6" cy="251.5" r="2.3" fill="#ffffff" stroke="#cf8a51" stroke-width="1.1"/>
<circle cx="487.8" cy="261" r="2.3" fill="#ffffff" stroke="#cf8a51" stroke-width="1.1"/>
<circle cx="483.2" cy="265.2" r="2.3" fill="#ffffff" stroke="#cf8a51" stroke-width="1.1"/>
<line x1="433.7" y1="221.4" x2="433.7" y2="304.2" stroke="#1c1c1c" stroke-width="1.25"/>
<line x1="430.4" y1="303.75" x2="494" y2="303.75" stroke="#1c1c1c" stroke-width="1.4"/>
<line x1="430.9" y1="303.6" x2="433.7" y2="303.6" stroke="#1c1c1c" stroke-width="1.0"/>
<text x="427.1" y="306.2" font-size="8" text-anchor="end" font-weight="normal" fill="#1c1c1c" >0</text>
<line x1="430.9" y1="276.9" x2="433.7" y2="276.9" stroke="#1c1c1c" stroke-width="1.0"/>
<text x="427.1" y="279.5" font-size="8" text-anchor="end" font-weight="normal" fill="#1c1c1c" >1</text>
<line x1="430.9" y1="250.2" x2="433.7" y2="250.2" stroke="#1c1c1c" stroke-width="1.0"/>
<text x="427.1" y="252.8" font-size="8" text-anchor="end" font-weight="normal" fill="#1c1c1c" >2</text>
<line x1="430.9" y1="223.5" x2="433.7" y2="223.5" stroke="#1c1c1c" stroke-width="1.0"/>
<text x="427.1" y="226.1" font-size="8" text-anchor="end" font-weight="normal" fill="#1c1c1c" >3</text>
<line x1="443.8" y1="303.6" x2="443.8" y2="306.6" stroke="#1c1c1c" stroke-width="1.0"/>
<line x1="457.6" y1="303.6" x2="457.6" y2="306.6" stroke="#1c1c1c" stroke-width="1.0"/>
<line x1="471.6" y1="303.6" x2="471.6" y2="306.6" stroke="#1c1c1c" stroke-width="1.0"/>
<line x1="485.8" y1="303.6" x2="485.8" y2="306.6" stroke="#1c1c1c" stroke-width="1.0"/>
<text transform="translate(417.4,264) rotate(-90)" font-size="9.2" text-anchor="middle" font-weight="normal" fill="#1c1c1c" textLength="43.7" lengthAdjust="spacingAndGlyphs" class="yt">cAMP (pmole)</text>
<text transform="translate(446.15,309.4) rotate(-90)" font-size="8.1" text-anchor="end" font-weight="normal" fill="#1c1c1c">Cont IgG</text>
<text transform="translate(459.95,309.4) rotate(-90)" font-size="8.1" text-anchor="end" font-weight="normal" fill="#1c1c1c">aPT IgG</text>
<text transform="translate(473.95,309.4) rotate(-90)" font-size="8.1" text-anchor="end" font-weight="normal" fill="#1c1c1c">aFC<tspan font-size="5.8" dy="0.9">&#947;</tspan><tspan dy="-0.9">RIIa</tspan></text>
<text transform="translate(488.15,309.4) rotate(-90)" font-size="8.1" text-anchor="end" font-weight="normal" fill="#1c1c1c">PLC<tspan font-size="6.2">-i</tspan></text>
<text x="397" y="201.8" font-size="11.5" text-anchor="start" font-weight="bold" fill="#000" >H</text>
<text x="15" y="133.5" font-size="8" text-anchor="start" font-weight="normal" fill="#1c1c1c" >&#956;g/mL</text>
<line x1="63.7" y1="143.2" x2="108.7" y2="143.2" stroke="#2a2a2a" stroke-width="1.1"/>
<line x1="113" y1="143.2" x2="158.9" y2="143.2" stroke="#2a2a2a" stroke-width="1.1"/>
<text x="86.2" y="152.8" font-size="8" text-anchor="middle" font-weight="normal" fill="#1c1c1c" >Cont IgG</text>
<text x="135.7" y="152.8" font-size="8" text-anchor="middle" font-weight="normal" fill="#1c1c1c" >APS IgG</text>
<polyline points="69.2,48.8 69.2,43.8 119.4,43.8 119.4,60.4" fill="none" stroke="#2e2e2e" stroke-width="1.1" stroke-linejoin="miter"/>
<text x="94.6" y="41.7" font-size="8" text-anchor="middle" font-weight="normal" fill="#1c1c1c" >ns</text>
<polyline points="89.4,35.9 89.4,31.8 136.6,31.8 136.6,65.4" fill="none" stroke="#2e2e2e" stroke-width="1.1" stroke-linejoin="miter"/>
<rect x="112" y="26.1" width="2.2" height="2.2" rx="0.5" fill="#1e1e1e"/>
<polyline points="104,24.9 104,20.4 152.4,20.4 152.4,50.3" fill="none" stroke="#2e2e2e" stroke-width="1.1" stroke-linejoin="miter"/>
<rect x="125.8" y="14.9" width="2.2" height="2.2" rx="0.5" fill="#1e1e1e"/>
<rect x="128.8" y="14.9" width="2.2" height="2.2" rx="0.5" fill="#1e1e1e"/>
<polyline points="248.3,161.7 248.3,164.9 276,164.9 276,161.7" fill="none" stroke="#2a2a2a" stroke-width="1.0" stroke-linejoin="miter"/>
<text x="262.15" y="175.3" font-size="8" text-anchor="middle" font-weight="normal" fill="#1c1c1c" >APS IgG</text>
<polyline points="369.6,161.3 369.6,164.5 393.9,164.5 393.9,161.3" fill="none" stroke="#2a2a2a" stroke-width="1.0" stroke-linejoin="miter"/>
<text x="381.75" y="175.5" font-size="8" text-anchor="middle" font-weight="normal" fill="#1c1c1c" >APS IgG</text>
<polyline points="484,160.7 484,163.9 508.4,163.9 508.4,160.7" fill="none" stroke="#2a2a2a" stroke-width="1.0" stroke-linejoin="miter"/>
<text x="496.2" y="174.8" font-size="8" text-anchor="middle" font-weight="normal" fill="#1c1c1c" >APS IgG</text>
<polyline points="75.8,346.4 75.8,349.6 102.9,349.6 102.9,346.4" fill="none" stroke="#2a2a2a" stroke-width="1.0" stroke-linejoin="miter"/>
<text x="89.35" y="360" font-size="8" text-anchor="middle" font-weight="normal" fill="#1c1c1c" >a&#946;2GPI</text>
<text x="89.35" y="369.8" font-size="8" text-anchor="middle" font-weight="normal" fill="#1c1c1c" >IgG</text>
<polyline points="206.5,345.3 206.5,348.5 230.2,348.5 230.2,345.3" fill="none" stroke="#2a2a2a" stroke-width="1.0" stroke-linejoin="miter"/>
<text x="218.35" y="360.3" font-size="8" text-anchor="middle" font-weight="normal" fill="#1c1c1c" >a&#946;2GPI</text>
<text x="218.35" y="369.9" font-size="8" text-anchor="middle" font-weight="normal" fill="#1c1c1c" >IgG</text>
<polyline points="335.4,346.5 335.4,349.7 360.5,349.7 360.5,346.5" fill="none" stroke="#2a2a2a" stroke-width="1.0" stroke-linejoin="miter"/>
<text x="347.95" y="359.3" font-size="8" text-anchor="middle" font-weight="normal" fill="#1c1c1c" >aPT IgG</text>
<polyline points="466.7,346.5 466.7,349.7 491.3,349.7 491.3,346.5" fill="none" stroke="#2a2a2a" stroke-width="1.0" stroke-linejoin="miter"/>
<text x="479" y="359.3" font-size="8" text-anchor="middle" font-weight="normal" fill="#1c1c1c" >aPT IgG</text>
<polyline points="224.4,52.5 224.4,49.4 239.1,49.4 239.1,52.5" fill="none" stroke="#2e2e2e" stroke-width="1.1" stroke-linejoin="miter"/>
<rect x="227.7" y="43.9" width="2.2" height="2.2" rx="0.5" fill="#1e1e1e"/>
<rect x="230.7" y="43.9" width="2.2" height="2.2" rx="0.5" fill="#1e1e1e"/>
<rect x="233.7" y="43.9" width="2.2" height="2.2" rx="0.5" fill="#1e1e1e"/>
<polyline points="238.6,41 238.6,36.2 262.2,36.2 262.2,68.8" fill="none" stroke="#2e2e2e" stroke-width="1.1" stroke-linejoin="miter"/>
<line x1="247.5" y1="68.8" x2="272.8" y2="68.8" stroke="#2e2e2e" stroke-width="1.1"/>
<rect x="247.7" y="30.7" width="2.2" height="2.2" rx="0.5" fill="#1e1e1e"/>
<rect x="250.7" y="30.7" width="2.2" height="2.2" rx="0.5" fill="#1e1e1e"/>
<polyline points="344.4,50.9 344.4,47.7 360.1,47.7 360.1,50.9" fill="none" stroke="#2e2e2e" stroke-width="1.1" stroke-linejoin="miter"/>
<rect x="346.6" y="41.7" width="2.2" height="2.2" rx="0.5" fill="#1e1e1e"/>
<rect x="349.6" y="41.7" width="2.2" height="2.2" rx="0.5" fill="#1e1e1e"/>
<rect x="352.6" y="41.7" width="2.2" height="2.2" rx="0.5" fill="#1e1e1e"/>
<rect x="355.6" y="41.7" width="2.2" height="2.2" rx="0.5" fill="#1e1e1e"/>
<polyline points="359.6,36.9 359.6,32.4 381.2,32.4 381.2,69" fill="none" stroke="#2e2e2e" stroke-width="1.1" stroke-linejoin="miter"/>
<line x1="370" y1="69" x2="392.8" y2="69" stroke="#2e2e2e" stroke-width="1.1"/>
<rect x="366.5" y="27.3" width="2.2" height="2.2" rx="0.5" fill="#1e1e1e"/>
<rect x="369.5" y="27.3" width="2.2" height="2.2" rx="0.5" fill="#1e1e1e"/>
<rect x="372.5" y="27.3" width="2.2" height="2.2" rx="0.5" fill="#1e1e1e"/>
<polyline points="459.6,42.9 459.6,40 474.4,40 474.4,42.9" fill="none" stroke="#2e2e2e" stroke-width="1.1" stroke-linejoin="miter"/>
<rect x="464.6" y="34.3" width="2.2" height="2.2" rx="0.5" fill="#1e1e1e"/>
<rect x="467.6" y="34.3" width="2.2" height="2.2" rx="0.5" fill="#1e1e1e"/>
<polyline points="474.4,35.2 474.4,30.3 497.5,30.3 497.5,43.6" fill="none" stroke="#2e2e2e" stroke-width="1.1" stroke-linejoin="miter"/>
<line x1="484.4" y1="43.6" x2="507.8" y2="43.6" stroke="#2e2e2e" stroke-width="1.1"/>
<rect x="484.9" y="24.8" width="2.2" height="2.2" rx="0.5" fill="#1e1e1e"/>
<polyline points="49.4,241.4 49.4,238.8 67.8,238.8 67.8,241.4" fill="none" stroke="#2e2e2e" stroke-width="1.1" stroke-linejoin="miter"/>
<rect x="54.5" y="233.4" width="2.2" height="2.2" rx="0.5" fill="#1e1e1e"/>
<rect x="57.5" y="233.4" width="2.2" height="2.2" rx="0.5" fill="#1e1e1e"/>
<rect x="60.5" y="233.4" width="2.2" height="2.2" rx="0.5" fill="#1e1e1e"/>
<polyline points="68.8,234 68.8,229.9 81.4,229.9 81.4,234.5" fill="none" stroke="#2e2e2e" stroke-width="1.1" stroke-linejoin="miter"/>
<rect x="73.9" y="224.6" width="2.2" height="2.2" rx="0.5" fill="#1e1e1e"/>
<polyline points="69,226.1 69,220.2 95.4,220.2 95.4,234.5" fill="none" stroke="#2e2e2e" stroke-width="1.1" stroke-linejoin="miter"/>
<rect x="79.1" y="214.4" width="2.2" height="2.2" rx="0.5" fill="#1e1e1e"/>
<rect x="82.1" y="214.4" width="2.2" height="2.2" rx="0.5" fill="#1e1e1e"/>
<polyline points="180.6,227.7 180.6,225 196,225 196,227.7" fill="none" stroke="#2e2e2e" stroke-width="1.1" stroke-linejoin="miter"/>
<rect x="185.8" y="218.8" width="2.2" height="2.2" rx="0.5" fill="#1e1e1e"/>
<rect x="188.8" y="218.8" width="2.2" height="2.2" rx="0.5" fill="#1e1e1e"/>
<polyline points="196,216.1 196,210.7 218.6,210.7 218.6,224.2" fill="none" stroke="#2e2e2e" stroke-width="1.1" stroke-linejoin="miter"/>
<line x1="205.9" y1="224.2" x2="229.1" y2="224.2" stroke="#2e2e2e" stroke-width="1.1"/>
<rect x="206.1" y="204.9" width="2.2" height="2.2" rx="0.5" fill="#1e1e1e"/>
<polyline points="313.3,244.7 313.3,241.9 326.8,241.9 326.8,244.7" fill="none" stroke="#2e2e2e" stroke-width="1.1" stroke-linejoin="miter"/>
<rect x="314.5" y="236.6" width="2.2" height="2.2" rx="0.5" fill="#1e1e1e"/>
<rect x="317.5" y="236.6" width="2.2" height="2.2" rx="0.5" fill="#1e1e1e"/>
<rect x="320.5" y="236.6" width="2.2" height="2.2" rx="0.5" fill="#1e1e1e"/>
<rect x="323.5" y="236.6" width="2.2" height="2.2" rx="0.5" fill="#1e1e1e"/>
<polyline points="327.6,234.5 327.6,228.6 341.1,228.6 341.1,244.7" fill="none" stroke="#2e2e2e" stroke-width="1.1" stroke-linejoin="miter"/>
<rect x="331.9" y="223.3" width="2.2" height="2.2" rx="0.5" fill="#1e1e1e"/>
<rect x="334.9" y="223.3" width="2.2" height="2.2" rx="0.5" fill="#1e1e1e"/>
<polyline points="327.6,224.3 327.6,221 353.3,221 353.3,244.7" fill="none" stroke="#2e2e2e" stroke-width="1.1" stroke-linejoin="miter"/>
<rect x="339.3" y="215.1" width="2.2" height="2.2" rx="0.5" fill="#1e1e1e"/>
<polyline points="442.1,227.7 442.1,225 456.8,225 456.8,227.7" fill="none" stroke="#2e2e2e" stroke-width="1.1" stroke-linejoin="miter"/>
<rect x="445.7" y="218.9" width="2.2" height="2.2" rx="0.5" fill="#1e1e1e"/>
<rect x="448.7" y="218.9" width="2.2" height="2.2" rx="0.5" fill="#1e1e1e"/>
<rect x="451.7" y="218.9" width="2.2" height="2.2" rx="0.5" fill="#1e1e1e"/>
<polyline points="457,216.1 457,211.6 471.8,211.6 471.8,224.5" fill="none" stroke="#2e2e2e" stroke-width="1.1" stroke-linejoin="miter"/>
<rect x="461.9" y="205.7" width="2.2" height="2.2" rx="0.5" fill="#1e1e1e"/>
<rect x="464.9" y="205.7" width="2.2" height="2.2" rx="0.5" fill="#1e1e1e"/>
<polyline points="456.8,206.8 456.8,203.6 485.6,203.6 485.6,224.5" fill="none" stroke="#2e2e2e" stroke-width="1.1" stroke-linejoin="miter"/>
<rect x="470.5" y="198.2" width="2.2" height="2.2" rx="0.5" fill="#1e1e1e"/>
<rect x="0.5" y="0.5" width="519" height="378" fill="none" stroke="#555555" stroke-width="1"/>
</svg>
</body></html>
